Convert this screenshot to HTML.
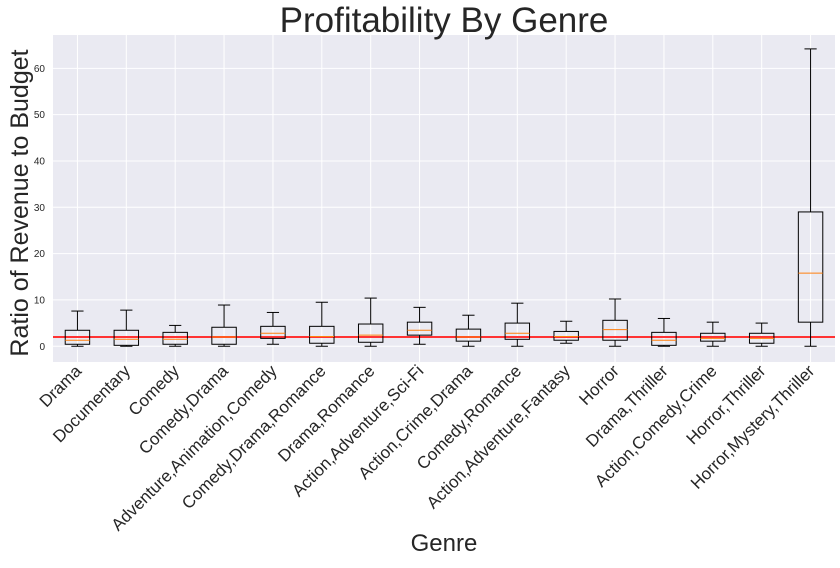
<!DOCTYPE html>
<html><head><meta charset="utf-8"><style>
body{margin:0;background:#fff;font-family:"Liberation Sans",Arial,sans-serif}
</style></head><body>
<svg id="c" width="840" height="563" xmlns="http://www.w3.org/2000/svg"></svg>
<script>
const categories=["Drama","Documentary","Comedy","Comedy,Drama","Adventure,Animation,Comedy","Comedy,Drama,Romance","Drama,Romance","Action,Adventure,Sci-Fi","Action,Crime,Drama","Comedy,Romance","Action,Adventure,Fantasy","Horror","Drama,Thriller","Action,Comedy,Crime","Horror,Thriller","Horror,Mystery,Thriller"];
const whiskerLow=[0,0,0,0,0.43,0,0,0.43,0,0,0.65,0,0,0,0,0];
const q1=[0.43,0.2,0.43,0.43,1.7,0.65,0.86,2.4,1.1,1.5,1.3,1.3,0.2,1.1,0.65,5.2];
const median=[1.3,1.5,1.5,2.0,2.8,2.1,2.4,3.45,2.0,2.8,2.1,3.6,1.3,1.7,1.7,15.8];
const q3=[3.45,3.45,3.0,4.1,4.3,4.3,4.8,5.2,3.7,5.0,3.2,5.6,3.0,2.8,2.8,29.0];
const whiskerHigh=[7.6,7.8,4.5,8.9,7.3,9.5,10.4,8.4,6.7,9.3,5.4,10.2,6.0,5.2,5.0,64.2];
const yTicks=[0,10,20,30,40,50,60];
const refLine=2.0;
const ns="http://www.w3.org/2000/svg";
const svg=document.getElementById('c');
const L=53,R=835,T=35,B=362,yMin=-3.4,yMax=67.2;
const y=v=>B-(v-yMin)/(yMax-yMin)*(B-T);
const step=(R-L)/categories.length;
const x=i=>L+(i+0.5)*step;
function el(t,a,p){const e=document.createElementNS(ns,t);for(const k in a)e.setAttribute(k,a[k]);(p||svg).appendChild(e);return e;}
const bg=el('rect',{x:L,y:T,width:R-L,height:B-T,fill:'#eaeaf2'});


yTicks.forEach(v=>{
 const g=el('line',{x1:L,x2:R,y1:y(v),y2:y(v),stroke:'#fff','stroke-width':1});
 
 
 const t=el('text',{x:L-8,y:y(v)+3.5,'text-anchor':'end','font-size':10,fill:'#262626'});
 t.textContent=v;
 
 
});
categories.forEach((c,i)=>{
 const g=el('line',{x1:x(i),x2:x(i),y1:T,y2:B,stroke:'#fff','stroke-width':1});
 
 
});
const rl=el('line',{x1:L,x2:R,y1:y(refLine),y2:y(refLine),stroke:'#ff3333','stroke-width':2});


categories.forEach((c,i)=>{
 const g=el('g',{});
 
 
 const cx=x(i),w=step/2,cw=step/4,s={stroke:'#000','stroke-width':1,fill:'none'};
 el('line',Object.assign({x1:cx,x2:cx,y1:y(whiskerLow[i]),y2:y(q1[i])},s),g);
 el('line',Object.assign({x1:cx,x2:cx,y1:y(q3[i]),y2:y(whiskerHigh[i])},s),g);
 el('line',Object.assign({x1:cx-cw/2,x2:cx+cw/2,y1:y(whiskerLow[i]),y2:y(whiskerLow[i])},s),g);
 el('line',Object.assign({x1:cx-cw/2,x2:cx+cw/2,y1:y(whiskerHigh[i]),y2:y(whiskerHigh[i])},s),g);
 el('rect',Object.assign({x:cx-w/2,y:y(q3[i]),width:w,height:y(q1[i])-y(q3[i])},s),g);
 el('line',{x1:cx-w/2,x2:cx+w/2,y1:y(median[i]),y2:y(median[i]),stroke:'#ff7f0e','stroke-width':1},g);
 const t=el('text',{x:0,y:0,'text-anchor':'end','font-size':17,fill:'#262626',transform:`translate(${cx+5},${B+10}) rotate(-45)`});
 t.textContent=c;
 
 
});
const tt=el('text',{x:444,y:32,'text-anchor':'middle','font-size':35,fill:'#262626'});
tt.textContent='Profitability By Genre';


const yl=el('text',{x:0,y:0,'text-anchor':'middle','font-size':25,fill:'#262626',transform:'translate(28,203) rotate(-90)'});
yl.textContent='Ratio of Revenue to Budget';


const xl=el('text',{x:444,y:551,'text-anchor':'middle','font-size':24,fill:'#262626'});
xl.textContent='Genre';


</script>
</body></html>
